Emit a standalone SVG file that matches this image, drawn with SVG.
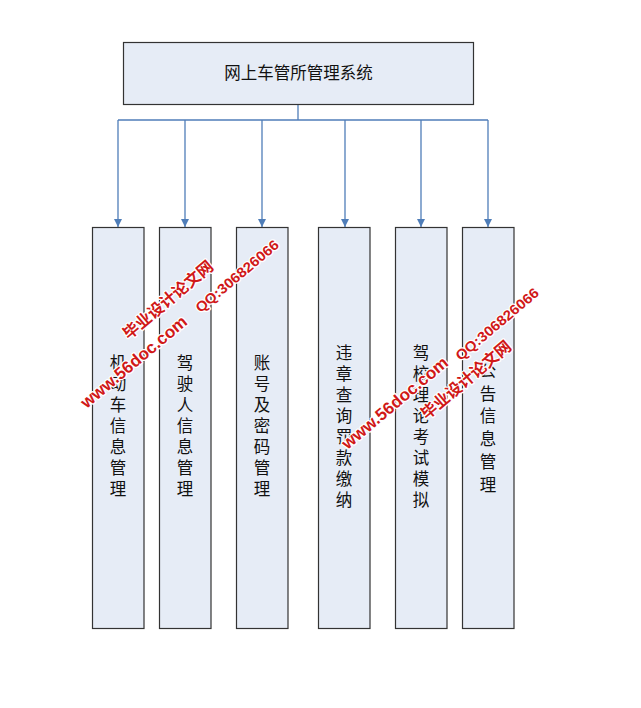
<svg xmlns="http://www.w3.org/2000/svg" width="641" height="708" viewBox="0 0 641 708">
<defs>
<style>
.box{fill:#E6ECF6;stroke:#333;stroke-width:1.2}
.t{font-family:"Liberation Sans","Noto Sans CJK SC",sans-serif;font-size:16.5px;fill:#111;text-anchor:middle;dominant-baseline:central}
.c{fill:none;stroke:#4F7DB8;stroke-width:1.3}
.wm{font-family:"Liberation Sans","Noto Sans CJK SC",sans-serif;fill:#D01818;font-weight:bold;text-anchor:middle;dominant-baseline:central;stroke:#fff;stroke-width:2.5;paint-order:stroke;stroke-linejoin:round}
</style>
<marker id="ah" viewBox="0 0 10 10" refX="10" refY="5" markerWidth="8" markerHeight="8" markerUnits="userSpaceOnUse" orient="auto">
<path d="M0,0 L10,5 L0,10 z" fill="#4F7DB8"/>
</marker>
</defs>
<rect width="641" height="708" fill="#fff"/>
<g id="connectors">
<path class="c" d="M298,104 V120" stroke-width="2"/>
<path class="c" d="M118,120 H488"/>
<path class="c" d="M118,120 V227" marker-end="url(#ah)"/>
<path class="c" d="M185,120 V227" marker-end="url(#ah)"/>
<path class="c" d="M262,120 V227" marker-end="url(#ah)"/>
<path class="c" d="M345,120 V227" marker-end="url(#ah)"/>
<path class="c" d="M421,120 V227" marker-end="url(#ah)"/>
<path class="c" d="M488,120 V227" marker-end="url(#ah)"/>
</g>
<g id="root">
<rect class="box" x="123.5" y="42.5" width="350" height="62"/>
<text class="t" x="298.5" y="73" font-size="17.5">网上车管所管理系统</text>
</g>
<g id="n1">
<rect class="box" x="92.5" y="227.5" width="51.5" height="401"/>
<text class="t"><tspan x="118" y="363">机</tspan><tspan x="118" y="384">动</tspan><tspan x="118" y="405">车</tspan><tspan x="118" y="426">信</tspan><tspan x="118" y="447">息</tspan><tspan x="118" y="468">管</tspan><tspan x="118" y="489">理</tspan></text>
</g>
<g id="n2">
<rect class="box" x="159.5" y="227.5" width="51.5" height="401"/>
<text class="t"><tspan x="185" y="363">驾</tspan><tspan x="185" y="384">驶</tspan><tspan x="185" y="405">人</tspan><tspan x="185" y="426">信</tspan><tspan x="185" y="447">息</tspan><tspan x="185" y="468">管</tspan><tspan x="185" y="489">理</tspan></text>
</g>
<g id="n3">
<rect class="box" x="236.5" y="227.5" width="51.5" height="401"/>
<text class="t"><tspan x="262" y="363">账</tspan><tspan x="262" y="384">号</tspan><tspan x="262" y="405">及</tspan><tspan x="262" y="426">密</tspan><tspan x="262" y="447">码</tspan><tspan x="262" y="468">管</tspan><tspan x="262" y="489">理</tspan></text>
</g>
<g id="n4">
<rect class="box" x="318.5" y="227.5" width="51.5" height="401"/>
<text class="t"><tspan x="344" y="353">违</tspan><tspan x="344" y="374">章</tspan><tspan x="344" y="395">查</tspan><tspan x="344" y="416">询</tspan><tspan x="344" y="437">罚</tspan><tspan x="344" y="458">款</tspan><tspan x="344" y="479">缴</tspan><tspan x="344" y="500">纳</tspan></text>
</g>
<g id="n5">
<rect class="box" x="395.5" y="227.5" width="51.5" height="401"/>
<text class="t"><tspan x="421" y="353">驾</tspan><tspan x="421" y="374">校</tspan><tspan x="421" y="395">理</tspan><tspan x="421" y="416">论</tspan><tspan x="421" y="437">考</tspan><tspan x="421" y="458">试</tspan><tspan x="421" y="479">模</tspan><tspan x="421" y="500">拟</tspan></text>
</g>
<g id="n6">
<rect class="box" x="462.5" y="227.5" width="51.5" height="401"/>
<text class="t"><tspan x="488" y="371">公</tspan><tspan x="488" y="394">告</tspan><tspan x="488" y="416">信</tspan><tspan x="488" y="439">息</tspan><tspan x="488" y="462">管</tspan><tspan x="488" y="485">理</tspan></text>
</g>
<g id="watermark">
<text class="wm" font-size="17" transform="translate(134,362) rotate(-40)" textLength="133" lengthAdjust="spacingAndGlyphs">www.56doc.com</text>
<text class="wm" font-size="16" transform="translate(168,300) rotate(-40)" textLength="112" lengthAdjust="spacingAndGlyphs">毕业设计论文网</text>
<text class="wm" font-size="14" font-weight="normal" transform="translate(237,276) rotate(-40)" textLength="104" lengthAdjust="spacingAndGlyphs">QQ:306826066</text>
<text class="wm" font-size="17" transform="translate(395,403) rotate(-40)" textLength="133" lengthAdjust="spacingAndGlyphs">www.56doc.com</text>
<text class="wm" font-size="16" transform="translate(466,380) rotate(-40)" textLength="112" lengthAdjust="spacingAndGlyphs">毕业设计论文网</text>
<text class="wm" font-size="14" font-weight="normal" transform="translate(497,324) rotate(-40)" textLength="104" lengthAdjust="spacingAndGlyphs">QQ:306826066</text>
</g>
</svg>
